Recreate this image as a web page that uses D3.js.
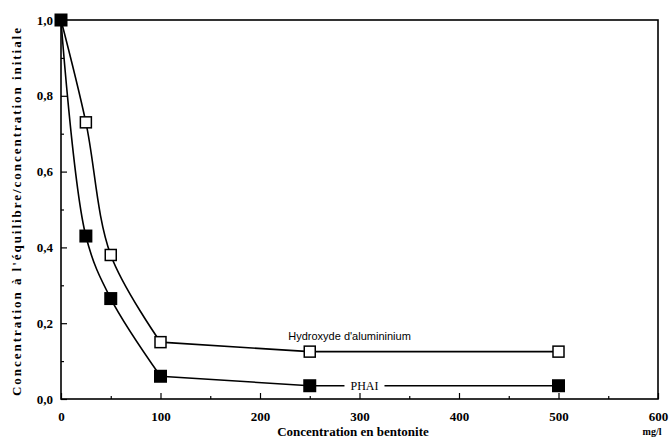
<!DOCTYPE html>
<html><head><meta charset="utf-8">
<script src="https://cdn.jsdelivr.net/npm/d3@7"></script>
<style>body{margin:0;background:#fff}svg{display:block}</style>
</head><body>
<script>
const xValues = [0, 25, 50, 100, 250, 500];
const hydroxyde = [1.0, 0.73, 0.38, 0.15, 0.125, 0.125];
const phai = [1.0, 0.43, 0.265, 0.06, 0.035, 0.035];
const xTicks = [0, 100, 200, 300, 400, 500, 600];
const yTicks = [0, 0.2, 0.4, 0.6, 0.8, 1.0];
const yTickLabels = ["0,0", "0,2", "0,4", "0,6", "0,8", "1,0"];

const W = 671, H = 439;
const m = {l: 61, r: 13, t: 20, b: 40};
const svg = d3.select("body").append("svg").attr("width", W).attr("height", H);
const font = "'Liberation Serif', 'DejaVu Serif', serif";
const x = d3.scaleLinear().domain([0, 600]).range([m.l, W - m.r]);
const y = d3.scaleLinear().domain([0, 1]).range([H - m.b, m.t]);

// frame
svg.append("rect").attr("x", x(0)).attr("y", y(1)).attr("width", x(600) - x(0)).attr("height", y(0) - y(1))
  .attr("fill", "none").attr("stroke", "#000").attr("stroke-width", 1.6);

// x axis ticks (inward)
const xa = svg.append("g").attr("transform", `translate(0,${y(0)})`)
  .call(d3.axisBottom(x).tickValues(xTicks).tickSize(-6).tickPadding(13).tickFormat(d3.format("d")));
xa.select(".domain").remove();
svg.append("g").attr("transform", `translate(0,${y(0)})`)
  .call(d3.axisBottom(x).tickValues(d3.range(50, 600, 100)).tickSize(-3).tickFormat(""))
  .select(".domain").remove();
// y axis ticks (inward)
const ya = svg.append("g").attr("transform", `translate(${x(0)},0)`)
  .call(d3.axisLeft(y).tickValues(yTicks).tickSize(-6).tickPadding(8).tickFormat((d, i) => yTickLabels[i]));
ya.select(".domain").remove();
svg.append("g").attr("transform", `translate(${x(0)},0)`)
  .call(d3.axisLeft(y).tickValues(d3.range(0.1, 1, 0.2)).tickSize(-3).tickFormat(""))
  .select(".domain").remove();
svg.selectAll(".tick line").attr("stroke", "#000").attr("stroke-width", 1.2);
svg.selectAll(".tick text").attr("font-family", font).attr("font-weight", "bold").attr("font-size", 13).attr("fill", "#000");

// axis titles
svg.append("text").attr("x", 353).attr("y", 436).attr("text-anchor", "middle")
  .attr("font-family", font).attr("font-weight", "bold").attr("font-size", 13)
  .text("Concentration en bentonite");
svg.append("text").attr("x", 652).attr("y", 435).attr("text-anchor", "middle")
  .attr("font-family", font).attr("font-weight", "bold").attr("font-size", 10)
  .text("mg/l");
svg.append("text").attr("transform", "translate(21,212) rotate(-90)").attr("text-anchor", "middle")
  .attr("font-family", font).attr("font-weight", "bold").attr("font-size", 13)
  .attr("textLength", 368).attr("lengthAdjust", "spacing")
  .text("Concentration à l'équilibre/concentration initiale");

const curve = d3.line().x(d => x(d[0])).y(d => y(d[1])).curve(d3.curveCatmullRom.alpha(0.5));
const straight = d3.line().x(d => x(d[0])).y(d => y(d[1]));
const hData = xValues.map((v, i) => [v, hydroxyde[i]]);
const pData = xValues.map((v, i) => [v, phai[i]]);

[hData, pData].forEach(dat => {
  svg.append("path").attr("d", curve(dat.slice(0, 4)) + straight(dat.slice(3)).replace(/^M/, "L"))
    .attr("fill", "none").attr("stroke", "#000").attr("stroke-width", 1.6);
});

// series labels
svg.append("text").attr("x", x(290)).attr("y", y(0.125) - 12).attr("text-anchor", "middle")
  .attr("font-family", "'Liberation Sans', Arial, sans-serif").attr("font-size", 11).text("Hydroxyde d'alumininium");
const pl = svg.append("text").attr("x", x(305)).attr("y", y(0.035) + 4).attr("text-anchor", "middle")
  .attr("font-family", font).attr("font-size", 12).text("PHAI");
const bb = pl.node().getBBox();
svg.append("rect").attr("x", bb.x - 6).attr("y", bb.y).attr("width", bb.width + 12).attr("height", bb.height).attr("fill", "#fff");
pl.raise();

const s = 13;
svg.selectAll(".ph").data(pData).enter().append("rect").attr("class", "ph")
  .attr("x", d => x(d[0]) - s / 2).attr("y", d => y(d[1]) - s / 2).attr("width", s).attr("height", s).attr("fill", "#000");
const so = 11;
svg.selectAll(".hy").data(hData.slice(1)).enter().append("rect").attr("class", "hy")
  .attr("x", d => x(d[0]) - so / 2).attr("y", d => y(d[1]) - so / 2).attr("width", so).attr("height", so)
  .attr("fill", "#fff").attr("stroke", "#000").attr("stroke-width", 1.5);
</script>
</body></html>
